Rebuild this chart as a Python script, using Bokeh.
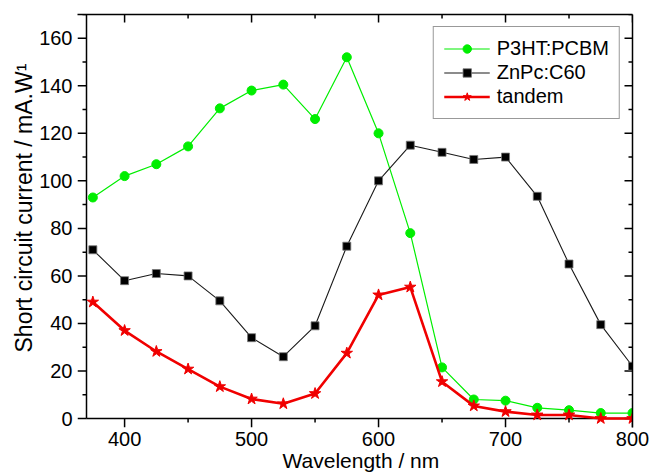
from bokeh.plotting import figure
from bokeh.models import LinearAxis, Range1d, Legend, LegendItem, FixedTicker, Title
from bokeh.embed import file_html
from bokeh.resources import INLINE

wavelength = [375, 400, 425, 450, 475, 500, 525, 550, 575, 600, 625, 650, 675, 700, 725, 750, 775, 800]
p3ht_pcbm = [93, 102, 107, 114.5, 130.5, 138, 140.5, 126, 152, 120, 78, 21.5, 8, 7.5, 4.5, 3.5, 2.3, 2.3]
znpc_c60 = [71, 58, 61, 60, 49.5, 34, 26, 39, 72.5, 100, 115, 112, 109, 110, 93.5, 65, 39.5, 22]
tandem = [49, 37, 28.2, 20.8, 13.4, 8.2, 6.2, 10.5, 27.5, 52, 55.3, 15.5, 5.3, 2.9, 1.5, 1.5, 0, 0]

x_major = [400, 500, 600, 700, 800]
x_minor = [450, 550, 650, 750]
y_major = [0, 20, 40, 60, 80, 100, 120, 140, 160]
y_minor = [10, 30, 50, 70, 90, 110, 130, 150, 170]

series_names = ["P3HT:PCBM", "ZnPc:C60", "tandem"]
x_label = "Wavelength / nm"
y_label = "Short circuit current / mA.W\u00b9"

X_MIN, X_MAX = 370, 800
Y_MIN, Y_MAX = 0, 170

FONT = "Liberation Sans"
GREEN = "#00ee00"
BLACK = "#1a1a1a"
RED = "#f00000"

BOX_W, BOX_H = 546, 404
PX_X = BOX_W / (X_MAX - X_MIN)
PX_Y = BOX_H / (Y_MAX - Y_MIN)
TICK_OUT_MAJ, TICK_OUT_MIN = 9, 4
TICK_IN_MAJ, TICK_IN_MIN = 8, 4

x0 = X_MIN - TICK_OUT_MAJ / PX_X
y0 = Y_MIN - TICK_OUT_MAJ / PX_Y

p = figure(width=650, height=474, output_backend="svg", toolbar_location=None,
           x_range=Range1d(x0, X_MAX), y_range=Range1d(y0, Y_MAX),
           min_border_left=77, min_border_right=18, min_border_top=14, min_border_bottom=47)
p.outline_line_color = None
p.xgrid.visible = False
p.ygrid.visible = False
p.background_fill_color = "white"
p.border_fill_color = "white"

p.xaxis.ticker = FixedTicker(ticks=x_major)
p.yaxis.ticker = FixedTicker(ticks=y_major)

for ax in (p.xaxis[0], p.yaxis[0]):
    ax.axis_line_color = None
    ax.major_tick_line_color = None
    ax.minor_tick_line_color = None
    ax.major_tick_in = 0
    ax.major_tick_out = 0
    ax.minor_tick_in = 0
    ax.minor_tick_out = 0
    ax.major_label_text_font = FONT
    ax.major_label_text_font_size = "20px"
    ax.major_label_text_color = "black"

p.yaxis.major_label_standoff = 5
p.xaxis.major_label_standoff = 4

# axis titles placed in the side panels, shifted from the frame corner
y_title = Title(text=y_label, align="left", offset=75, standoff=0,
                text_font=FONT, text_font_size="23px", text_font_style="normal",
                text_color="black")
p.add_layout(y_title, "left")
x_title = Title(text=x_label, align="left", offset=205, standoff=-4,
                text_font=FONT, text_font_size="21px", text_font_style="normal",
                text_color="black")
p.add_layout(x_title, "below")

top = LinearAxis(ticker=FixedTicker(ticks=[]))
right = LinearAxis(ticker=FixedTicker(ticks=[]))
for ax in (top, right):
    ax.axis_line_width = 1.5
    ax.axis_line_color = "black"
    ax.major_tick_in = 0
    ax.major_tick_out = 0
    ax.minor_tick_in = 0
    ax.minor_tick_out = 0
    ax.major_label_text_font_size = "1px"
    ax.major_label_text_alpha = 0
    ax.major_label_standoff = 0
p.add_layout(top, "above")
p.add_layout(right, "right")

AX = dict(line_color="black", line_width=1.5)
p.segment(x0=[X_MIN, X_MIN], y0=[Y_MIN, Y_MIN], x1=[X_MIN, X_MAX], y1=[Y_MAX, Y_MIN], **AX)

# ticks: outward on left/bottom, inward on top/right
p.segment(x0=[X_MIN] * len(y_major), y0=y_major,
          x1=[X_MIN - TICK_OUT_MAJ / PX_X] * len(y_major), y1=y_major, **AX)
p.segment(x0=[X_MIN] * len(y_minor), y0=y_minor,
          x1=[X_MIN - TICK_OUT_MIN / PX_X] * len(y_minor), y1=y_minor, **AX)
p.segment(x0=x_major, y0=[Y_MIN] * len(x_major),
          x1=x_major, y1=[Y_MIN - TICK_OUT_MAJ / PX_Y] * len(x_major), **AX)
p.segment(x0=x_minor, y0=[Y_MIN] * len(x_minor),
          x1=x_minor, y1=[Y_MIN - TICK_OUT_MIN / PX_Y] * len(x_minor), **AX)
p.segment(x0=x_major, y0=[Y_MAX] * len(x_major),
          x1=x_major, y1=[Y_MAX - TICK_IN_MAJ / PX_Y] * len(x_major), **AX)
p.segment(x0=x_minor, y0=[Y_MAX] * len(x_minor),
          x1=x_minor, y1=[Y_MAX - TICK_IN_MIN / PX_Y] * len(x_minor), **AX)
p.segment(x0=[X_MAX] * len(y_major), y0=y_major,
          x1=[X_MAX - TICK_IN_MAJ / PX_X] * len(y_major), y1=y_major, **AX)
p.segment(x0=[X_MAX] * len(y_minor), y0=y_minor,
          x1=[X_MAX - TICK_IN_MIN / PX_X] * len(y_minor), y1=y_minor, **AX)

g_line = p.line(wavelength, p3ht_pcbm, line_color=GREEN, line_width=1.2)
g_pts = p.scatter(wavelength, p3ht_pcbm, marker="circle", size=9, fill_color=GREEN, line_color=GREEN)
k_line = p.line(wavelength, znpc_c60, line_color=BLACK, line_width=1.1)
k_pts = p.scatter(wavelength, znpc_c60, marker="square", size=8, fill_color="black", line_color="#777777", line_width=0.8)
r_line = p.line(wavelength, tandem, line_color=RED, line_width=2.6)
r_pts = p.scatter(wavelength, tandem, marker="star", size=12, fill_color=RED, line_color=RED)

legend = Legend(items=[
    LegendItem(label=series_names[0], renderers=[g_line, g_pts]),
    LegendItem(label=series_names[1], renderers=[k_line, k_pts]),
    LegendItem(label=series_names[2], renderers=[r_line, r_pts]),
], location="top_right")
legend.margin = 12
legend.padding = 10
legend.spacing = 1
legend.label_height = 21
legend.glyph_height = 21
legend.glyph_width = 46
legend.label_standoff = 7
legend.label_text_font = FONT
legend.label_text_font_size = "20px"
legend.label_text_color = "black"
legend.border_line_color = "#333333"
legend.border_line_width = 1.2
legend.background_fill_color = "white"
legend.background_fill_alpha = 1
p.add_layout(legend, "center")

open("out.html", "w").write(file_html(p, INLINE))
